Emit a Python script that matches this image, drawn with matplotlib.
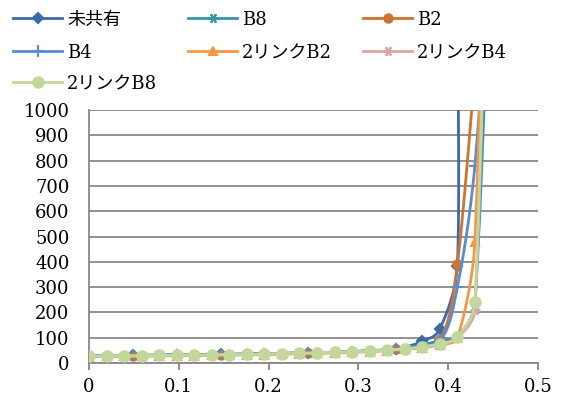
import numpy as np
import matplotlib
matplotlib.use("Agg")
import matplotlib.pyplot as plt
from matplotlib.lines import Line2D

plt.rcParams['font.family'] = ['DejaVu Serif', 'Noto Sans CJK JP']

# x grids
x_coarse = [0, 0.0488, 0.0977, 0.1465, 0.1953, 0.2441, 0.293, 0.3418, 0.3711, 0.3906, 0.4102, 0.4102]
x_coarse2 = [0, 0.0488, 0.0977, 0.1465, 0.1953, 0.2441, 0.293, 0.3418, 0.3906, 0.4102, 0.4297]
x_coarse3 = [0, 0.0488, 0.0977, 0.1465, 0.1953, 0.2441, 0.293, 0.3418, 0.3906, 0.4102, 0.4297, 0.4492]
x_fine = [0, 0.0195, 0.0391, 0.0586, 0.0781, 0.0977, 0.1172, 0.1367, 0.1563, 0.1758, 0.1953, 0.2148,
          0.2344, 0.2539, 0.2734, 0.293, 0.3125, 0.332, 0.3516, 0.3711, 0.3906, 0.4102, 0.4297, 0.4492]

y_mikyoyu = [28, 30, 32, 34, 37, 40, 45, 57, 85, 134, 385, 1500]
y_b8 = [27, 28, 28, 29, 30, 31, 31, 32, 33, 34, 35, 37, 38, 40, 42, 44, 47, 51, 60, 72, 88, 105, 235, 1900]
y_b2 = [27, 29, 31, 33, 36, 39, 44, 55, 95, 390, 1150]
y_b4 = [28, 30, 32, 34, 37, 40, 45, 56, 90, 300, 780, 1800]
y_2b2 = [25, 26, 26, 27, 28, 29, 29, 30, 31, 32, 33, 35, 36, 38, 40, 42, 45, 49, 54, 61, 72, 100, 480, 3000]
y_2b4 = [27, 28, 28, 29, 30, 31, 31, 32, 33, 34, 35, 37, 38, 40, 42, 44, 47, 51, 56, 63, 75, 100, 210, 2500]
y_2b8 = [27, 28, 28, 29, 30, 31, 31, 32, 33, 34, 35, 37, 38, 40, 42, 44, 47, 51, 56, 63, 76, 103, 240, 2600]

labels = ['未共有', 'B8', 'B2', 'B4', '2リンクB2', '2リンクB4', '2リンクB8']
colors = ['#3C6AA8', '#3795A8', '#CF7430', '#5A8CD0', '#F79646', '#DBA7A6', '#C3D69B']
markers = ['D', (6, 2, 90), 'o', '+', '^', (6, 2, 90), 'o']
msizes = [5, 7, 6, 8, 6, 7, 7.5]

xs = [x_coarse, x_fine, x_coarse2, x_coarse3, x_fine, x_fine, x_fine]
ys = [y_mikyoyu, y_b8, y_b2, y_b4, y_2b2, y_2b4, y_2b8]

W, H = 449.0, 253.0  # plot area in px, used for excel-like smoothing


def excel_smooth(x, y, n=30, k=0.4):
    p = np.column_stack([np.asarray(x) / 0.5 * W, np.asarray(y) / 1000.0 * H])
    ext = np.vstack([p[0], p, p[-1]])
    out = [p[:1]]
    t = np.linspace(0, 1, n)[1:, None]
    for i in range(len(p) - 1):
        P0, P1, P2, P3 = ext[i], ext[i + 1], ext[i + 2], ext[i + 3]
        L = np.linalg.norm(P2 - P1)
        d1 = (P2 - P0) / 6
        d2 = (P3 - P1) / 6
        # keep control points from flying off on very uneven segments
        for d in (d1, d2):
            nd = np.linalg.norm(d)
            if nd > k * L and nd > 0:
                d *= k * L / nd
        c1 = P1 + d1
        c2 = P2 - d2
        seg = (1 - t) ** 3 * P1 + 3 * (1 - t) ** 2 * t * c1 + 3 * (1 - t) * t ** 2 * c2 + t ** 3 * P2
        out.append(seg)
    q = np.vstack(out)
    return q[:, 0] / W * 0.5, q[:, 1] / H * 1000.0


fig = plt.figure(figsize=(5.66, 4.01), dpi=100)
ax = fig.add_axes([89 / 566, 38 / 401, 449 / 566, 253 / 401])

# series drawn one after another, markers with their own line
for j, (x, y, lab, c, m, ms) in enumerate(zip(xs, ys, labels, colors, markers, msizes)):
    sx, sy = excel_smooth(x, y)
    ax.plot(sx, sy, color=c, lw=2.0, zorder=2 + 2 * j)
    ax.plot(x, y, ls='none', marker=m, color=c, ms=ms, mew=1.5, zorder=3 + 2 * j)

ax.set_xlim(0, 0.5)
ax.set_ylim(0, 1000)
ax.set_xticks([0, 0.1, 0.2, 0.3, 0.4, 0.5])
ax.set_xticklabels(['0', '0.1', '0.2', '0.3', '0.4', '0.5'])
ax.set_yticks(range(0, 1001, 100))
ax.yaxis.grid(True, color='#888888', lw=1.3)
ax.set_axisbelow(True)
for s in ['top', 'right']:
    ax.spines[s].set_visible(False)
for s in ['left', 'bottom']:
    ax.spines[s].set_color('#888888')
    ax.spines[s].set_linewidth(1.3)
ax.tick_params(axis='y', length=0, pad=14, labelsize=13)
ax.tick_params(axis='x', length=5, width=1.3, color='#888888', pad=6, labelsize=13)

# legend laid out row by row like the original
leg_cols = [13, 188, 363]
leg_rows = [18, 51, 82]
for i, (lab, c, m, ms) in enumerate(zip(labels, colors, markers, msizes)):
    px = leg_cols[i % 3]
    py = 1 - leg_rows[i // 3] / 401
    x0, x1 = px / 566, (px + 49) / 566
    fig.add_artist(Line2D([x0, x1], [py, py], color=c, lw=2.0, transform=fig.transFigure))
    fig.add_artist(Line2D([(x0 + x1) / 2], [py], color=c, marker=m, ms=ms, mew=1.5,
                          transform=fig.transFigure))
    fig.text((px + 54) / 566, py, lab, fontsize=13, va='center_baseline', ha='left')

fig.savefig('out.png', dpi=100)
